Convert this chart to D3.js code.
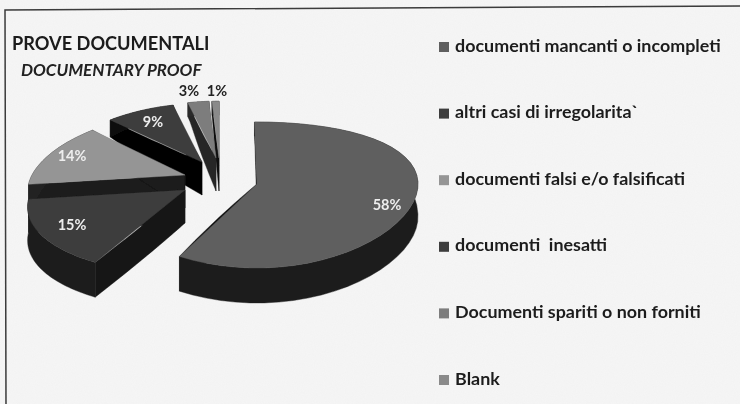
<!DOCTYPE html>
<html><head><meta charset="utf-8">
<script src="https://cdn.jsdelivr.net/npm/d3@7"></script>
<style>html,body{margin:0;padding:0;background:#f4f4f4}svg{display:block}text{font-family:Lato,"Open Sans",sans-serif;font-weight:700}</style>
</head><body><svg id="c" width="740" height="404"></svg>
<script>
const categories=["documenti mancanti o incompleti","altri casi di irregolarita`","documenti falsi e/o falsificati","documenti  inesatti","Documenti spariti o non forniti","Blank"];
const values=[58,15,14,9,3,1];
const labels=["58%","15%","14%","9%","3%","1%"];
const topColors=["#5e5e5e","#3c3c3c","#959595","#3e3e3e","#7d7d7d","#8a8a8a"];
const wallColors=["#1e1e1e","#1d1d1d","#242424","#0c0c0c","#2a2a2a","#1a1a1a"];
const faceColors=["#111111","#141414","#1a1a1a","#050505","#262626","#111111"];

// layout of each exploded slice
const apexX=[257,185,185,202,216,219], apexY=[184,190,175,162,158,158];
const radiusX=[1,.95,.95,.93,.9,.9], radiusY=[1,1,1,.93,.9,.9], persp=[0,.25,.25,.25,.25,.25], rot=[-.9,0,0,0,0,0];
const RX=161, RY=73, RY2=11;
const labelX=[387,72,72,153,189,217], labelY=[206,226,157,123,92,92];
const labelFill=["#eee","#eee","#eee","#eee","#222","#222"];

const svg=d3.select("#c");
const defs=svg.append("defs");
const bl=defs.append("filter").attr("id","soft").attr("x","-5%").attr("y","-5%").attr("width","110%").attr("height","110%");
bl.append("feGaussianBlur").attr("stdDeviation",.55);
const n=defs.append("filter").attr("id","grain").attr("x",0).attr("y",0).attr("width","100%").attr("height","100%");
n.append("feTurbulence").attr("type","fractalNoise").attr("baseFrequency",.9).attr("numOctaves",2).attr("seed",4);
n.append("feColorMatrix").attr("values","0 0 0 0 .5 0 0 0 0 .5 0 0 0 0 .5 0 0 0 .07 0");

svg.append("rect").attr("width",740).attr("height",404).attr("fill","#f6f6f6");
svg.append("rect").attr("width",740).attr("height",404).attr("filter","url(#grain)");
const g=svg.append("g").attr("filter","url(#soft)");
g.append("path").attr("d",d3.line()([[6,404],[5,10],[740,6]])).attr("fill","none").attr("stroke","#3a3a3a").attr("stroke-width",1.5);

const pie=d3.pie().sort(null).startAngle(0).endAngle(2*Math.PI);
const arcs=pie(values);
const line=d3.line();
function P(i,a,r){
  const u=-Math.cos(a)*r*radiusY[i];
  const x=apexX[i]+RX*Math.sin(a)*r*radiusX[i]*(1+persp[i]*u);
  const y=apexY[i]+RY*u+RY2*u*u;
  return [x,y,u];
}
function depth(u){return u<0?Math.max(14,33+25*u):33+2*u;}
function low(p){return [p[0],p[1]+depth(p[2])];}
const order=d3.range(values.length).reverse();
order.forEach(i=>{
  const d=arcs[i], rr=rot[i]*Math.PI/180;
  const s=d.startAngle+rr, e=d.endAngle;
  const as=d3.range(0,41).map(t=>s+(e-s)*t/40);
  const rim=as.map(a=>P(i,a,1));
  const ap=P(i,0,0);
  const rs=d3.range(0,11).map(t=>P(i,s,t/10)), re=d3.range(0,11).map(t=>P(i,e,t/10));
  [rs,re].forEach(edge=>{
    g.append("path").attr("d",line(edge.concat(edge.slice().reverse().map(low)).map(p=>p.slice(0,2)))+"Z").attr("fill",faceColors[i]).attr("stroke",faceColors[i]).attr("stroke-width",.4);
  });
  g.append("path").attr("d",line(rim.concat(rim.slice().reverse().map(low)).map(p=>p.slice(0,2)))+"Z").attr("fill",wallColors[i]).attr("stroke",wallColors[i]).attr("stroke-width",.4);
  g.append("path").attr("d",line([ap].concat(rim).map(p=>p.slice(0,2)))+"Z").attr("fill",topColors[i]).attr("stroke",topColors[i]).attr("stroke-width",.4);
});

labels.forEach((t,i)=>{
  g.append("text").attr("x",labelX[i]).attr("y",labelY[i]).attr("text-anchor","middle").attr("dominant-baseline","middle").attr("font-size",14.5).attr("fill",labelFill[i]).text(t);
});

g.append("text").attr("x",12).attr("y",50).attr("font-size",18.2).attr("fill","#1a1a1a").text("PROVE DOCUMENTALI");
g.append("text").attr("x",21).attr("y",76).attr("font-size",17).attr("font-style","italic").attr("fill","#222").text("DOCUMENTARY PROOF");

const ly=d3.scalePoint().domain(categories).range([47,380]);
categories.forEach((c,i)=>{
  g.append("rect").attr("x",439).attr("y",ly(c)-5).attr("width",10).attr("height",10).attr("fill",topColors[i]);
  g.append("text").attr("x",455).attr("y",ly(c)).attr("dominant-baseline","middle").attr("font-size",17.9).attr("fill","#1c1c1c").attr("xml:space","preserve").style("white-space","pre").text(c);
});
</script></body></html>
